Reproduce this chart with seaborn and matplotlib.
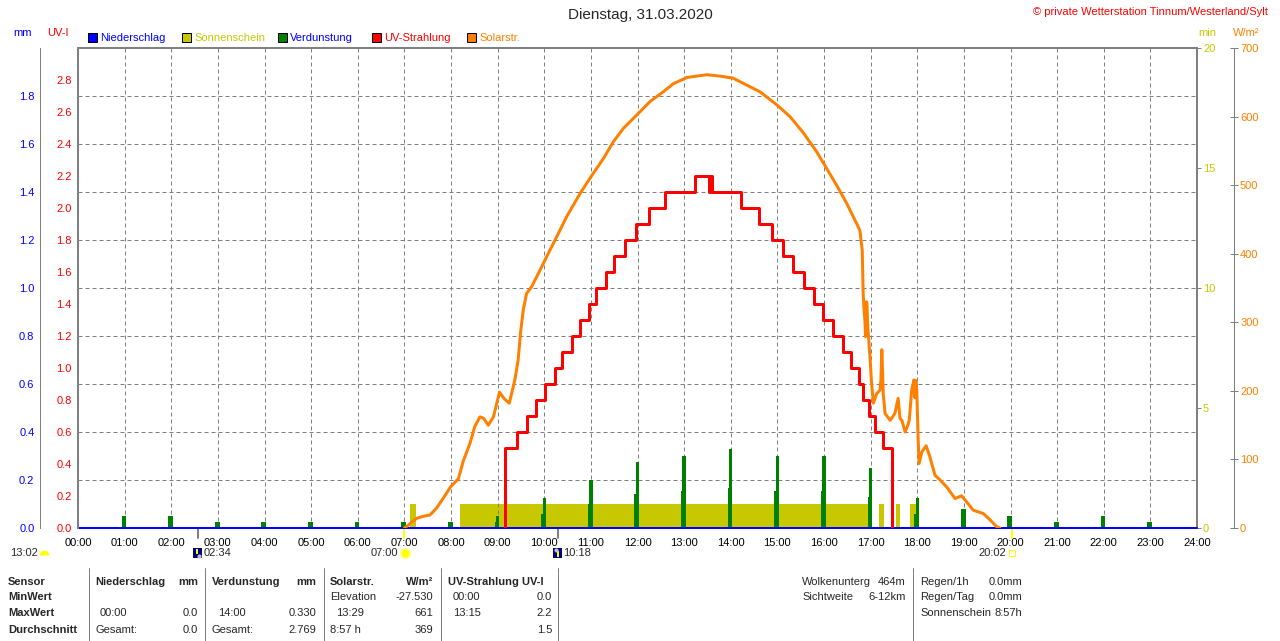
import matplotlib
matplotlib.use("Agg")
import matplotlib.pyplot as plt
from matplotlib.patches import Rectangle
from matplotlib.lines import Line2D
from matplotlib.transforms import blended_transform_factory
import seaborn as sns

# ---------------- data ----------------
hour_ticks = list(range(0, 25))
hour_labels = ["%02d:00" % h for h in hour_ticks]

mm_ticks = [0.0, 0.2, 0.4, 0.6, 0.8, 1.0, 1.2, 1.4, 1.6, 1.8]
uv_ticks = [0.0, 0.2, 0.4, 0.6, 0.8, 1.0, 1.2, 1.4, 1.6, 1.8, 2.0, 2.2, 2.4, 2.6, 2.8]
min_ticks = [0, 5, 10, 15, 20]
wm2_ticks = [0, 100, 200, 300, 400, 500, 600, 700]

# Niederschlag (mm)
precip_t = [0.0, 24.0]
precip_mm = [0.0, 0.0]

# Verdunstung (mm) per hour
evap_hours = list(range(1, 24))
evap_mm = [0.05, 0.05, 0.025, 0.025, 0.025, 0.025, 0.025, 0.025, 0.05, 0.125, 0.2, 0.275,
           0.3, 0.33, 0.3, 0.3, 0.25, 0.125, 0.08, 0.05, 0.025, 0.05, 0.025]
evap_low = [0.05, 0.05, 0.025, 0.025, 0.025, 0.025, 0.025, 0.025, 0.025, 0.06, 0.1, 0.14,
            0.155, 0.165, 0.155, 0.155, 0.13, 0.06, 0.08, 0.05, 0.025, 0.05, 0.025]

# Sonnenschein (min) intervals
sun_start = [7.13, 8.19, 17.18, 17.54, 17.84]
sun_end = [7.26, 17.0, 17.28, 17.63, 17.97]
sun_min = [1.0, 1.0, 1.0, 1.0, 1.0]

# UV-Strahlung (UV-I), step function
uv_t = [9.16, 9.16, 9.41, 9.62, 9.82, 10.02, 10.23, 10.39, 10.59, 10.76, 10.97, 11.12, 11.32,
        11.50, 11.73, 11.97, 12.25, 12.60, 13.23, 13.54, 13.56, 13.60, 14.23, 14.60, 14.88,
        15.11, 15.34, 15.57, 15.79, 15.98, 16.20, 16.40, 16.58, 16.75, 16.84, 16.97, 17.09,
        17.27, 17.46]
uv_v = [0.0, 0.5, 0.6, 0.7, 0.8, 0.9, 1.0, 1.1, 1.2, 1.3, 1.4, 1.5, 1.6,
        1.7, 1.8, 1.9, 2.0, 2.1, 2.2, 2.1, 2.2, 2.1, 2.0, 1.9, 1.8,
        1.7, 1.6, 1.5, 1.4, 1.3, 1.2, 1.1, 1.0, 0.9, 0.8, 0.7, 0.6,
        0.5, 0.0]

# Solarstrahlung (W/m2)
solar_t = [7.00, 7.08, 7.26, 7.40, 7.55, 7.69, 7.83, 7.99, 8.16, 8.26, 8.41, 8.51, 8.62, 8.70,
           8.80, 8.91, 9.04, 9.15, 9.25, 9.37, 9.44, 9.49, 9.55, 9.62, 9.73, 9.91, 10.12,
           10.27, 10.48, 10.77, 10.98, 11.27, 11.48, 11.70, 11.98, 12.27, 12.55, 12.77, 13.06,
           13.27, 13.49, 13.77, 14.05, 14.34, 14.63, 14.99, 15.27, 15.56, 15.84, 16.06, 16.27,
           16.49, 16.70, 16.77, 16.82, 16.84, 16.86, 16.88, 16.89, 16.91, 16.92, 16.94, 16.95,
           16.99, 17.02, 17.06, 17.13, 17.20, 17.22, 17.24, 17.26, 17.27, 17.31, 17.42, 17.52,
           17.59, 17.63, 17.67, 17.74, 17.80, 17.83, 17.88, 17.93, 17.95, 17.97, 17.99, 18.02,
           18.04, 18.10, 18.19, 18.27, 18.38, 18.49, 18.63, 18.81, 18.95, 19.06, 19.20, 19.42,
           19.56, 19.70, 19.77]
solar_w = [0, 4, 14, 17, 19, 29, 43, 60, 72, 97, 124, 148, 162, 160,
           150, 162, 198, 188, 182, 216, 245, 284, 318, 342, 352, 376, 405,
           425, 454, 488, 510, 539, 563, 583, 602, 622, 636, 648, 657,
           659, 661, 659, 656, 646, 636, 617, 600, 576, 549, 524, 500,
           473, 444, 434, 405, 342, 318, 300, 279, 330, 328, 290, 284,
           245, 211, 182, 196, 201, 215, 260, 220, 196, 167, 157, 167,
           189, 160, 157, 140, 150, 158, 201, 216, 190, 215, 201, 128,
           94, 111, 120, 104, 77, 70, 60, 43, 47, 38, 26, 21,
           12, 2, 0]

# sun / moon events
event_t = [2.567, 7.0, 10.3, 20.033]
event_col = ["#808080", "#FFFF00", "#808080", "#FFFF00"]

# ---------------- style ----------------
sns.set_style("white")
plt.rcParams["font.family"] = ["Liberation Sans", "DejaVu Sans"]
plt.rcParams["font.size"] = 8

BLUE = "#0000FF"
RED = "#FF0000"
OLIVE = "#C8C800"
GREEN = "#008000"
ORANGE = "#FF8000"
GRAY = "#808080"

W, H = 1280, 641
L, R, T, B = 78, 1197, 48, 528
PX = 0.72  # one pixel in points

fig = plt.figure(figsize=(12.8, 6.41), dpi=100)
fig.patch.set_facecolor("white")
rect = [L / W, 1 - B / H, (R - L) / W, (B - T) / H]

ax_min = fig.add_axes(rect)
ax_mm = fig.add_axes(rect, sharex=ax_min)
ax_uv = fig.add_axes(rect, sharex=ax_min)
ax_w = fig.add_axes(rect, sharex=ax_min)
for z, a in enumerate((ax_min, ax_mm, ax_uv, ax_w)):
    a.set_zorder(z)
    if z > 0:
        a.patch.set_visible(False)
    for s in a.spines.values():
        s.set_visible(False)
    a.grid(False)

ax_min.set_xlim(0, 24)
ax_min.set_ylim(0, 20)
ax_mm.set_ylim(0, 2.0)
ax_uv.set_ylim(0, 3.0)
ax_w.set_ylim(0, 700)

# grid (dashed), on the mm axis
for h in hour_ticks[1:-1]:
    ax_mm.axvline(h, color=GRAY, lw=PX, ls=(0, (4, 3)), zorder=0.5)
for m in mm_ticks[1:]:
    ax_mm.axhline(m, color=GRAY, lw=PX, ls=(0, (4, 3)), zorder=0.5)

# sunshine bars
ax_min.bar(sun_start, sun_min, width=[e - s for s, e in zip(sun_start, sun_end)],
           align="edge", color=OLIVE, linewidth=0)

# evaporation spikes
ax_mm.bar([h - 0.015 for h in evap_hours], evap_low, width=0.1, color=GREEN,
          linewidth=0, zorder=2)
ax_mm.bar(evap_hours, evap_mm, width=0.07, color=GREEN, linewidth=0, zorder=2)

# UV line
sns.lineplot(x=uv_t, y=uv_v, ax=ax_uv, color=RED, linewidth=3 * PX,
             drawstyle="steps-post", estimator=None, sort=False)
# solar line
sns.lineplot(x=solar_t, y=solar_w, ax=ax_w, color=ORANGE, linewidth=3 * PX,
             estimator=None, sort=False)
# precipitation line
sns.lineplot(x=precip_t, y=precip_mm, ax=ax_mm, color=BLUE, linewidth=2 * PX,
             estimator=None, sort=False, clip_on=False, zorder=5)

for a in (ax_min, ax_mm, ax_uv, ax_w):
    a.set_xlabel("")
    a.set_ylabel("")

# ---- axes / spines ----
ax_min.set_xticks(hour_ticks)
ax_min.set_xticklabels(hour_labels)
ax_min.tick_params(axis="x", direction="out", length=3 * PX, width=PX, color=GRAY,
                   labelsize=8, labelcolor="black", pad=5)
ax_min.yaxis.tick_right()
ax_min.set_yticks(min_ticks)
ax_min.set_yticklabels([str(v) for v in min_ticks])
ax_min.tick_params(axis="y", direction="out", length=4 * PX, width=PX, color=GRAY,
                   labelsize=8, labelcolor=OLIVE, pad=1.5)
ax_min.spines["right"].set_visible(True)
ax_min.spines["right"].set_color(GRAY)
ax_min.spines["right"].set_linewidth(2 * PX)
ax_min.spines["bottom"].set_visible(True)
ax_min.spines["bottom"].set_color(GRAY)
ax_min.spines["bottom"].set_linewidth(2 * PX)

ax_mm.tick_params(axis="x", bottom=False, labelbottom=False)
ax_mm.spines["left"].set_visible(True)
ax_mm.spines["left"].set_position(("axes", (40 - L) / (R - L)))
ax_mm.spines["left"].set_color(GRAY)
ax_mm.spines["left"].set_linewidth(PX)
ax_mm.set_yticks(mm_ticks)
ax_mm.set_yticklabels(["%.1f" % v for v in mm_ticks])
ax_mm.tick_params(axis="y", direction="inout", length=7 * PX, width=PX, color=GRAY,
                  labelsize=8, labelcolor=BLUE, pad=1.5)

ax_uv.tick_params(axis="x", bottom=False, labelbottom=False)
ax_uv.spines["left"].set_visible(True)
ax_uv.spines["left"].set_color(GRAY)
ax_uv.spines["left"].set_linewidth(2 * PX)
ax_uv.spines["top"].set_visible(True)
ax_uv.spines["top"].set_color(GRAY)
ax_uv.spines["top"].set_linewidth(2 * PX)
ax_uv.set_yticks(uv_ticks)
ax_uv.set_yticklabels(["%.1f" % v for v in uv_ticks])
ax_uv.tick_params(axis="y", direction="out", length=4 * PX, width=PX, color=GRAY,
                  labelsize=8, labelcolor=RED, pad=1.5)

ax_w.tick_params(axis="x", bottom=False, labelbottom=False)
ax_w.yaxis.tick_right()
ax_w.spines["right"].set_visible(True)
ax_w.spines["right"].set_position(("axes", (1234 - L) / (R - L)))
ax_w.spines["right"].set_color(GRAY)
ax_w.spines["right"].set_linewidth(PX)
ax_w.set_yticks(wm2_ticks)
ax_w.set_yticklabels([str(v) for v in wm2_ticks])
ax_w.tick_params(axis="y", direction="inout", length=8 * PX, width=PX, color=GRAY,
                 labelsize=8, labelcolor=ORANGE, pad=1.5)

# event markers under the x axis
btr = blended_transform_factory(ax_min.transData, ax_min.transAxes)
for t, c in zip(event_t, event_col):
    ax_min.add_line(Line2D([t, t], [0, -10 / (B - T)], transform=btr, color=c,
                           lw=2 * PX, clip_on=False, zorder=6))


# ---------------- figure texts ----------------
def ftext(x, y, s, **kw):
    kw.setdefault("va", "center")
    kw.setdefault("fontsize", 8)
    fig.text(x / W, 1 - y / H, s, **kw)


def frect(x, y, w, h, **kw):
    fig.add_artist(Rectangle((x / W, 1 - (y + h) / H), w / W, h / H,
                             transform=fig.transFigure, **kw))


def fmark(x, y, **kw):
    fig.add_artist(Line2D([x / W], [1 - y / H], transform=fig.transFigure,
                          linestyle="none", **kw))


ftext(640, 15, "Dienstag, 31.03.2020", ha="center", fontsize=11)
ftext(1268, 12, "\u00a9 private Wetterstation Tinnum/Westerland/Sylt", ha="right", color=RED)

ftext(13, 33, "mm", color=BLUE)
ftext(47, 33, "UV-I", color=RED)
ftext(1198, 33, "min", color=OLIVE)
ftext(1233, 33, "W/m\u00b2", color=ORANGE)

legend_items = [(88, "Niederschlag", BLUE, BLUE), (182, "Sonnenschein", OLIVE, OLIVE),
                (278, "Verdunstung", GREEN, BLUE), (372, "UV-Strahlung", RED, RED),
                (467, "Solarstr.", ORANGE, ORANGE)]
for x, lab, fc, tc in legend_items:
    frect(x, 33, 9, 9, facecolor=fc, edgecolor="black", linewidth=PX)
    ftext(x + 12, 38, lab, color=tc)

# sun / moon labels
ftext(10, 553, "13:02")
fmark(44, 555, marker="o", markersize=7, fillstyle="top", markerfacecolor="#FFFF00",
      markerfacecoloralt="none", markeredgecolor="none")
frect(193, 548, 9, 10, facecolor="#000080", edgecolor="none")
frect(196, 549, 2, 5, facecolor="#FFFF00", edgecolor="none")
fmark(199, 556, marker="o", markersize=3, color="#C0C0C0", markeredgecolor="none")
ftext(204, 553, "02:34")
ftext(398, 553, "07:00", ha="right")
fmark(405, 553, marker="o", markersize=8, color="#FFFF80", markeredgecolor="none")
fmark(405, 553, marker="o", markersize=5.5, color="#FFFF00", markeredgecolor="none")
frect(553, 548, 9, 10, facecolor="#000080", edgecolor="none")
frect(557, 551, 2, 6, facecolor="#FFFF00", edgecolor="none")
fmark(556, 550, marker="o", markersize=3, color="#C0C0C0", markeredgecolor="none")
ftext(563, 553, "10:18")
ftext(1006, 553, "20:02", ha="right")
frect(1009, 550, 6, 6, facecolor="none", edgecolor="#FFFF00", linewidth=PX)

# ---------------- table ----------------
for xs in (89, 205, 324, 441, 558, 913):
    fig.add_artist(Line2D([xs / W, xs / W], [1 - 568 / H, 0], transform=fig.transFigure,
                          color=GRAY, lw=PX))

rows_y = [582, 597, 613, 630]
for y, lab in zip(rows_y, ["Sensor", "MinWert", "MaxWert", "Durchschnitt"]):
    ftext(8, y, lab, fontweight="bold")

ftext(95, 582, "Niederschlag", fontweight="bold")
ftext(198, 582, "mm", ha="right", fontweight="bold")
ftext(100, 613, "00:00")
ftext(198, 613, "0.0", ha="right")
ftext(95, 630, "Gesamt:")
ftext(198, 630, "0.0", ha="right")

ftext(212, 582, "Verdunstung", fontweight="bold")
ftext(316, 582, "mm", ha="right", fontweight="bold")
ftext(218, 613, "14:00")
ftext(316, 613, "0.330", ha="right")
ftext(212, 630, "Gesamt:")
ftext(316, 630, "2.769", ha="right")

ftext(330, 582, "Solarstr.", fontweight="bold")
ftext(433, 582, "W/m\u00b2", ha="right", fontweight="bold")
ftext(330, 597, "Elevation")
ftext(433, 597, "-27.530", ha="right")
ftext(336, 613, "13:29")
ftext(433, 613, "661", ha="right")
ftext(330, 630, "8:57 h")
ftext(433, 630, "369", ha="right")

ftext(448, 582, "UV-Strahlung UV-I", fontweight="bold")
ftext(453, 597, "00:00")
ftext(552, 597, "0.0", ha="right")
ftext(453, 613, "13:15")
ftext(552, 613, "2.2", ha="right")
ftext(552, 630, "1.5", ha="right")

ftext(802, 582, "Wolkenunterg")
ftext(906, 582, "464m", ha="right")
ftext(802, 597, "Sichtweite")
ftext(906, 597, "6-12km", ha="right")

ftext(920, 582, "Regen/1h")
ftext(1022, 582, "0.0mm", ha="right")
ftext(920, 597, "Regen/Tag")
ftext(1022, 597, "0.0mm", ha="right")
ftext(920, 613, "Sonnenschein")
ftext(1022, 613, "8:57h", ha="right")

fig.savefig("out.png", dpi=100, facecolor="white")
